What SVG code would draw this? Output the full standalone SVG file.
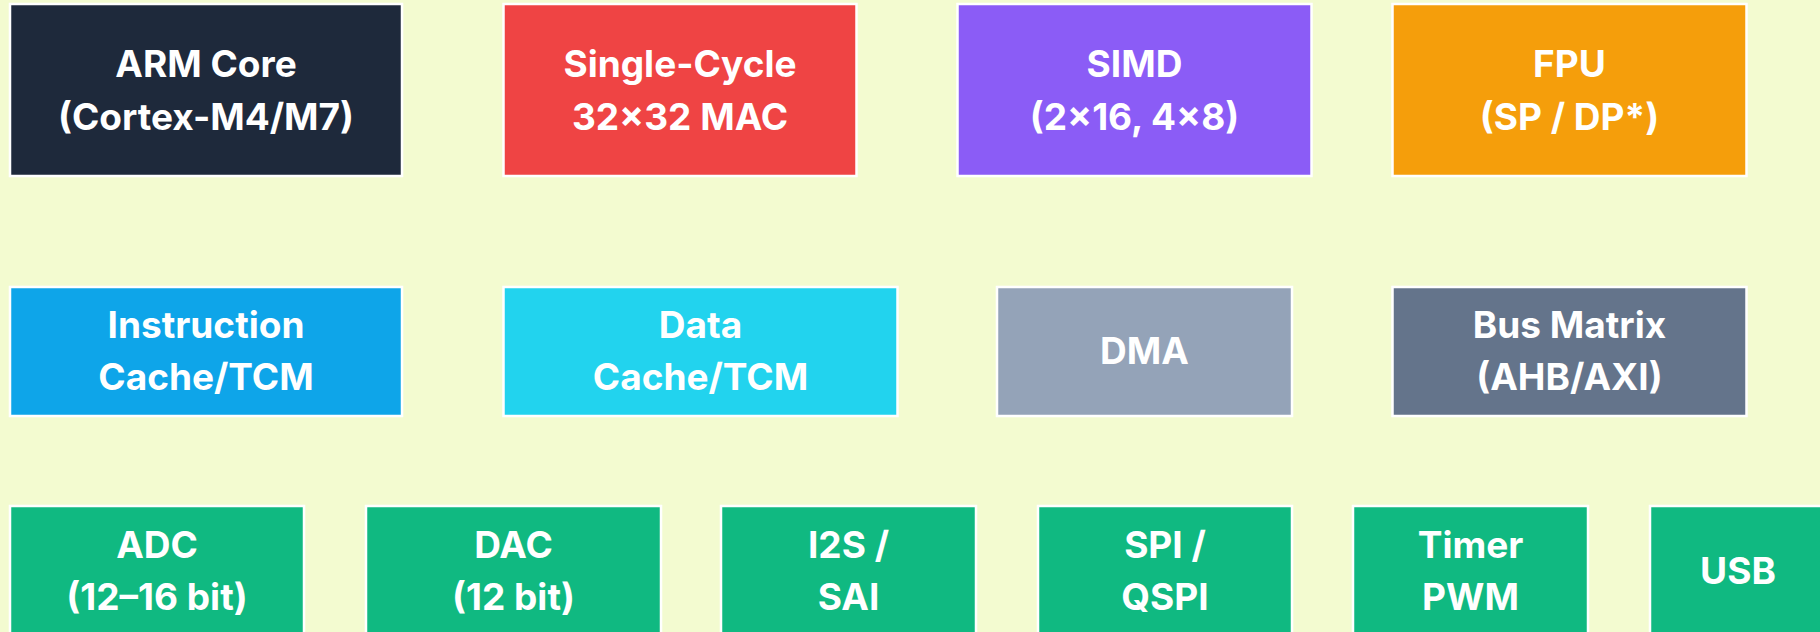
<svg xmlns="http://www.w3.org/2000/svg" width="1820" height="632" viewBox="0 0 1820 632">
<style>
.box{stroke:#ffffff;stroke-width:2.5}
.t{font-family:Inter,"Open Sans","Liberation Sans",sans-serif;font-weight:700;font-size:37px;fill:#ffffff;text-anchor:middle}
</style>
<rect x="0" y="0" width="1820" height="632" fill="#f3fbd0"/>
<g id="connectors"></g>
<g id="arm-core"><rect class="box" x="10" y="4" width="392" height="172" fill="#1e293b"/><text class="t" x="206" y="77">ARM Core</text><text class="t" x="206" y="130">(Cortex-M4/M7)</text></g>
<g id="mac"><rect class="box" x="503.5" y="4" width="353" height="172" fill="#ef4444"/><text class="t" x="680" y="77">Single-Cycle</text><text class="t" x="680" y="130">32×32 MAC</text></g>
<g id="simd"><rect class="box" x="957.5" y="4" width="354" height="172" fill="#8b5cf6"/><text class="t" x="1134.5" y="77">SIMD</text><text class="t" x="1134.5" y="130">(2×16, 4×8)</text></g>
<g id="fpu"><rect class="box" x="1392.5" y="4" width="354" height="172" fill="#f59e0b"/><text class="t" x="1569.5" y="77">FPU</text><text class="t" x="1569.5" y="130">(SP / DP*)</text></g>
<g id="icache"><rect class="box" x="10" y="287" width="392" height="129" fill="#0ea5e9"/><text class="t" x="206" y="338">Instruction</text><text class="t" x="206" y="390">Cache/TCM</text></g>
<g id="dcache"><rect class="box" x="503.5" y="287" width="394" height="129" fill="#22d3ee"/><text class="t" x="700.5" y="338">Data</text><text class="t" x="700.5" y="390">Cache/TCM</text></g>
<g id="dma"><rect class="box" x="997" y="287" width="295" height="129" fill="#94a3b8"/><text class="t" x="1144.5" y="364">DMA</text></g>
<g id="bus"><rect class="box" x="1392.5" y="287" width="354" height="129" fill="#64748b"/><text class="t" x="1569.5" y="338">Bus Matrix</text><text class="t" x="1569.5" y="390">(AHB/AXI)</text></g>
<g id="adc"><rect class="box" x="10" y="506" width="294" height="130" fill="#10b981"/><text class="t" x="157" y="558">ADC</text><text class="t" x="157" y="610">(12–16 bit)</text></g>
<g id="dac"><rect class="box" x="366" y="506" width="295" height="130" fill="#10b981"/><text class="t" x="513.5" y="558">DAC</text><text class="t" x="513.5" y="610">(12 bit)</text></g>
<g id="i2s"><rect class="box" x="721" y="506" width="255" height="130" fill="#10b981"/><text class="t" x="848.5" y="558">I2S /</text><text class="t" x="848.5" y="610">SAI</text></g>
<g id="spi"><rect class="box" x="1038" y="506" width="254" height="130" fill="#10b981"/><text class="t" x="1165" y="558">SPI /</text><text class="t" x="1165" y="610">QSPI</text></g>
<g id="timer"><rect class="box" x="1353" y="506" width="235" height="130" fill="#10b981"/><text class="t" x="1470.5" y="558">Timer</text><text class="t" x="1470.5" y="610">PWM</text></g>
<g id="usb"><rect class="box" x="1650" y="506" width="176" height="130" fill="#10b981"/><text class="t" x="1738" y="584">USB</text></g>
</svg>
